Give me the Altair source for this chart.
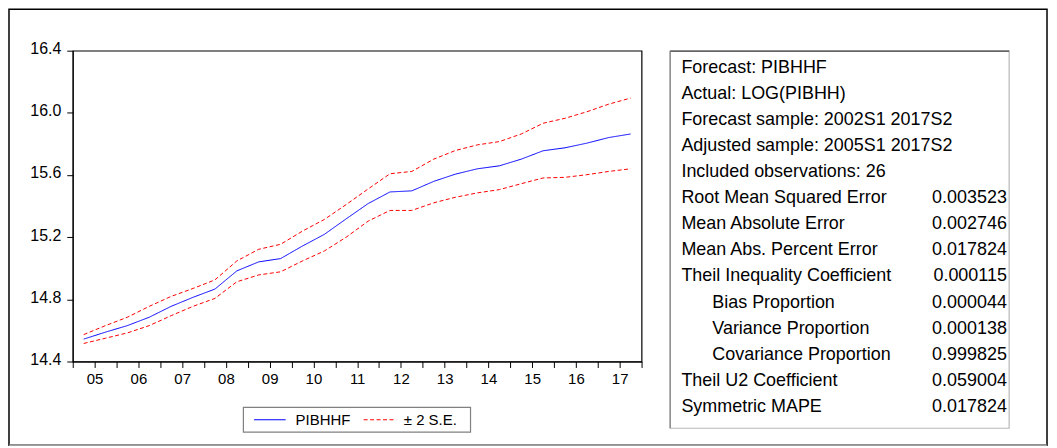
import altair as alt
import pandas as pd

# ---------------- data ----------------
years = ['05', '06', '07', '08', '09', '10', '11', '12', '13', '14', '15', '16', '17']

forecast = [14.544, 14.589, 14.631, 14.685, 14.755, 14.813, 14.866, 14.983, 15.041, 15.062,
            15.143, 15.218, 15.318, 15.416, 15.491, 15.498, 15.559, 15.606, 15.640, 15.659,
            15.702, 15.756, 15.775, 15.805, 15.841, 15.864]
upper = [14.573, 14.631, 14.685, 14.755, 14.819, 14.870, 14.925, 15.047, 15.122, 15.154,
         15.239, 15.314, 15.410, 15.510, 15.608, 15.623, 15.702, 15.758, 15.794, 15.815,
         15.864, 15.933, 15.965, 16.007, 16.056, 16.095]
lower = [14.516, 14.550, 14.584, 14.631, 14.695, 14.755, 14.806, 14.913, 14.957, 14.977,
         15.047, 15.111, 15.200, 15.303, 15.372, 15.372, 15.421, 15.457, 15.485, 15.506,
         15.544, 15.581, 15.585, 15.602, 15.623, 15.640]

y_ticks = [14.4, 14.8, 15.2, 15.6, 16.0, 16.4]
legend_labels = ['PIBHHF', '\u00b1 2 S.E.']

stat_labels = ["Forecast: PIBHHF", "Actual: LOG(PIBHH)", "Forecast sample: 2002S1 2017S2",
               "Adjusted sample: 2005S1 2017S2", "Included observations: 26",
               "Root Mean Squared Error", "Mean Absolute Error", "Mean Abs. Percent Error",
               "Theil Inequality Coefficient", "Bias Proportion", "Variance Proportion",
               "Covariance Proportion", "Theil U2 Coefficient", "Symmetric MAPE"]
stat_values = ["", "", "", "", "", "0.003523", "0.002746", "0.017824", "0.000115",
               "0.000044", "0.000138", "0.999825", "0.059004", "0.017824"]

# ---------------- build tables ----------------
first_year = 2000 + int(years[0])
n = len(forecast)
t = [first_year + 0.25 + 0.5 * i for i in range(n)]
df = pd.DataFrame({'t': t, 'forecast': forecast, 'upper': upper, 'lower': lower})
one = pd.DataFrame({'k': [0]})
stats = pd.DataFrame({'label': stat_labels, 'value': stat_values,
                      'row': list(range(len(stat_labels)))})

W, H = 571, 312
FONT = 'Liberation Sans'

x_ticks = [first_year + 0.5 * k for k in range(2 * len(years) + 1)]
label_js = "[" + ",".join("'%s'" % y for y in years) + "]"
label_expr = ("datum.value % 1 == 0.5 ? " + label_js +
              "[floor(datum.value) - " + str(first_year) + "] : ''")

series = ['forecast', 'upper', 'lower']
lines = alt.Chart(df).transform_fold(series, as_=['series', 'val']).mark_line(
    strokeWidth=1).encode(
    x=alt.X('t:Q',
            scale=alt.Scale(domain=[first_year, first_year + len(years)], nice=False, zero=False),
            axis=alt.Axis(values=x_ticks, labelExpr=label_expr, title=None, grid=False,
                          tickSize=6, labelPadding=4, labelFontSize=15, labelOverlap=False,
                          labelFlush=False, labelAngle=0, labelColor='black',
                          domainColor='black', tickColor='black')),
    y=alt.Y('val:Q', scale=alt.Scale(domain=[14.4, 16.4], nice=False, zero=False),
            axis=alt.Axis(values=y_ticks, format='.1f', title=None, grid=False, tickSize=6,
                          labelPadding=6, labelFontSize=16, labelColor='black',
                          domainColor='black', tickColor='black', labelOffset=-2)),
    color=alt.Color('series:N', scale=alt.Scale(domain=series,
                                                range=['#0000ff', '#ff0000', '#ff0000']),
                    legend=None),
    strokeDash=alt.StrokeDash('series:N', scale=alt.Scale(domain=series,
                                                          range=[[1, 0], [4, 2.5], [4, 2.5]]),
                              legend=None),
)


def box(x1, x2, y1, y2, stroke, sw=1.0, fill_op=0.0):
    return alt.Chart(one).mark_rect(fill='white', fillOpacity=fill_op, stroke=stroke,
                                    strokeWidth=sw).encode(
        x=alt.value(x1), x2=alt.value(x2), y=alt.value(y1), y2=alt.value(y2))


def rule(x1, x2, y1, y2, color, sw=1.0, dash=None):
    kw = dict(color=color, strokeWidth=sw)
    if dash:
        kw['strokeDash'] = dash
    return alt.Chart(one).mark_rule(**kw).encode(
        x=alt.value(x1), x2=alt.value(x2), y=alt.value(y1), y2=alt.value(y2))


def label(x, y, txt, size=15, align='left'):
    return alt.Chart(one).mark_text(align=align, baseline='middle', fontSize=size,
                                    color='black', font=FONT).encode(
        x=alt.value(x), y=alt.value(y), text=alt.value(txt))


# outer frame
frame = box(-64, 978, -41.5, 396, 'black', 1.5)
frame_bottom = rule(-64, 978, 396, 396, '#a0a0a0', 1.5)

# legend
leg_y = 370.5
legend_layers = [
    box(171.3, 399.3, 358, 383, '#808080', 1.2),
    rule(182, 213.7, leg_y, leg_y, '#0000ff', 1),
    label(223.7, leg_y, legend_labels[0]),
    rule(292, 324.7, leg_y, leg_y, '#ff0000', 1, [4, 2.5]),
    label(332.3, leg_y, legend_labels[1]),
]

# stats box
stats_box = [
    box(599.7, 940, 0.4, 379, '#b8b8b8', 1.2, 1.0),
    rule(599.7, 940, 0.4, 0.4, '#404040', 1.2),
    rule(599.7, 599.7, 0.4, 379, '#808080', 1.2),
]

ROW_Y = 'datum.row * 26.15 + 17.5'
stat_text = alt.Chart(stats).transform_calculate(
    py=ROW_Y,
    px="indexof(datum.label, 'Proportion') >= 0 ? 642 : 611",
).mark_text(align='left', baseline='middle', fontSize=18, color='black', font=FONT).encode(
    x=alt.X('px:Q', scale=None, axis=None),
    y=alt.Y('py:Q', scale=None, axis=None),
    text='label:N',
)
stat_vals = alt.Chart(stats).transform_calculate(
    py=ROW_Y,
).mark_text(align='right', baseline='middle', fontSize=18, color='black', font=FONT).encode(
    x=alt.value(937.7),
    y=alt.Y('py:Q', scale=None, axis=None),
    text='value:N',
)

chart = alt.layer(
    frame, frame_bottom, lines, *legend_layers, *stats_box, stat_text, stat_vals
).resolve_scale(
    x='independent', y='independent'
).properties(
    width=W, height=H,
    padding={'left': 65, 'top': 42, 'right': 409, 'bottom': 86},
    autosize=alt.AutoSizeParams(type='none'),
).configure(
    font=FONT, background='white'
).configure_view(
    stroke='black', strokeWidth=1.2
)

chart.save("out.html", embed_options={"renderer": "svg", "actions": False})
